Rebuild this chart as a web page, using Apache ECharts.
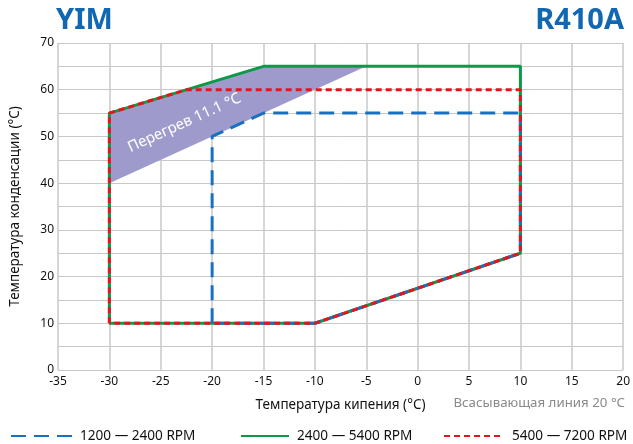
<!DOCTYPE html>
<html><head><meta charset="utf-8">
<script src="https://cdn.jsdelivr.net/npm/echarts@6/dist/echarts.min.js"></script>
<style>html,body{margin:0;padding:0;background:#fff}#c{width:633px;height:444px}</style>
</head><body><div id="c"></div>
<script>
const FONT = '"Noto Sans", "Open Sans", sans-serif';
const seriesNames = ['1200 — 2400 RPM', '2400 — 5400 RPM', '5400 — 7200 RPM'];
// Envelope outlines (evaporating °C, condensing °C)
const blueX  = [-20, -20, -15, 10, 10, -10, -20];
const blueY  = [ 10,  50,  55, 55, 25,  10,  10];
const greenX = [-30, -30, -15, 10, 10, -10, -30];
const greenY = [ 10,  55,  65, 65, 25,  10,  10];
const redX   = [-30, -30, -22.5, 10, 10, -10, -30];
const redY   = [ 10,  55,  60,   60, 25,  10,  10];
// Superheat zone polygon
const zoneX = [-30, -15, -5, -30];
const zoneY = [ 55,  65, 65,  40];
const zoneLabel = 'Перегрев 11.1 °C';
const zoneLabelPos = [-22.7, 52.9];

const pairs = (xs, ys) => xs.map((x, i) => [x, ys[i]]);

const legendBase = (name, left, w) => ({
  data: [name], left: left, top: 429, padding: 0, itemWidth: w, itemHeight: 6,
  itemStyle: {opacity: 0},
  textStyle: {fontSize: 13.6, color: '#111', fontFamily: FONT, padding: [0, 0, 0, 3]}
});

const chart = echarts.init(document.getElementById('c'), null, {renderer: 'canvas'});
chart.setOption({
  animation: false,
  textStyle: {fontFamily: FONT},
  grid: {left: 57, right: 9, top: 43, bottom: 74},
  title: [
    {text: 'YIM', left: 56, top: 6, padding: 0, textStyle: {color: '#1167b1', fontSize: 29, fontWeight: 'bold', fontFamily: FONT}},
    {text: 'R410A', right: 9, top: 6, padding: 0, textStyle: {color: '#1167b1', fontSize: 29, fontWeight: 'bold', fontFamily: FONT}},
    {text: 'Всасывающая линия 20 °C', right: 8, top: 397, padding: 0, textStyle: {color: '#8a8a8a', fontSize: 13.3, fontWeight: 'normal', fontFamily: FONT}}
  ],
  xAxis: {
    type: 'value', min: -35, max: 20, interval: 5,
    name: 'Температура кипения (°C)', nameLocation: 'middle', nameGap: 28,
    nameTextStyle: {color: '#111', fontSize: 13.5, fontFamily: FONT},
    axisLine: {show: false}, axisTick: {show: false},
    axisLabel: {color: '#111', fontSize: 12, margin: 6, fontFamily: FONT},
    splitLine: {show: true, lineStyle: {color: '#c8c8c8', width: 1.5}}
  },
  yAxis: {
    type: 'value', min: 0, max: 70, interval: 5,
    name: 'Температура конденсации (°C)', nameLocation: 'middle', nameGap: 36,
    nameTextStyle: {color: '#111', fontSize: 13.5, fontFamily: FONT},
    axisLine: {show: false}, axisTick: {show: false},
    axisLabel: {color: '#111', fontSize: 12, margin: 4, fontFamily: FONT,
      formatter: v => (v % 10 === 0 ? String(v) : '')},
    splitLine: {show: true, lineStyle: {color: '#c8c8c8', width: 1}}
  },
  legend: [
    legendBase(seriesNames[0], 10, 61),
    legendBase(seriesNames[1], 240, 48),
    legendBase(seriesNames[2], 443, 60)
  ],
  series: [
    {
      type: 'custom', silent: true, z: 1,
      data: pairs(zoneX, zoneY),
      renderItem: (params, api) => {
        if (params.dataIndex !== 0) return null;
        const pts = zoneX.map((x, i) => api.coord([x, zoneY[i]]));
        const lp = api.coord(zoneLabelPos);
        return {type: 'group', children: [
          {type: 'polygon', shape: {points: pts}, style: {fill: '#9e9bcc'}},
          {type: 'text', x: lp[0], y: lp[1], rotation: 24.5 * Math.PI / 180,
           style: {text: zoneLabel, fill: '#fff', fontSize: 15, fontFamily: FONT, align: 'center', verticalAlign: 'middle'}}
        ]};
      }
    },
    {name: seriesNames[1], type: 'line', z: 3, data: pairs(greenX, greenY), symbol: 'none',
     itemStyle: {color: '#0d9a48'}, lineStyle: {color: '#0d9a48', width: 3, type: 'solid'}},
    {name: seriesNames[0], type: 'line', z: 4, data: pairs(blueX, blueY), symbol: 'none',
     itemStyle: {color: '#1a70c0'}, lineStyle: {color: '#1a70c0', width: 3, type: [15, 8]}},
    {name: seriesNames[2], type: 'line', z: 5, data: pairs(redX, redY), symbol: 'none',
     itemStyle: {color: '#e8141d'}, lineStyle: {color: '#e8141d', width: 3, type: [6, 4]}}
  ]
});
</script></body></html>
